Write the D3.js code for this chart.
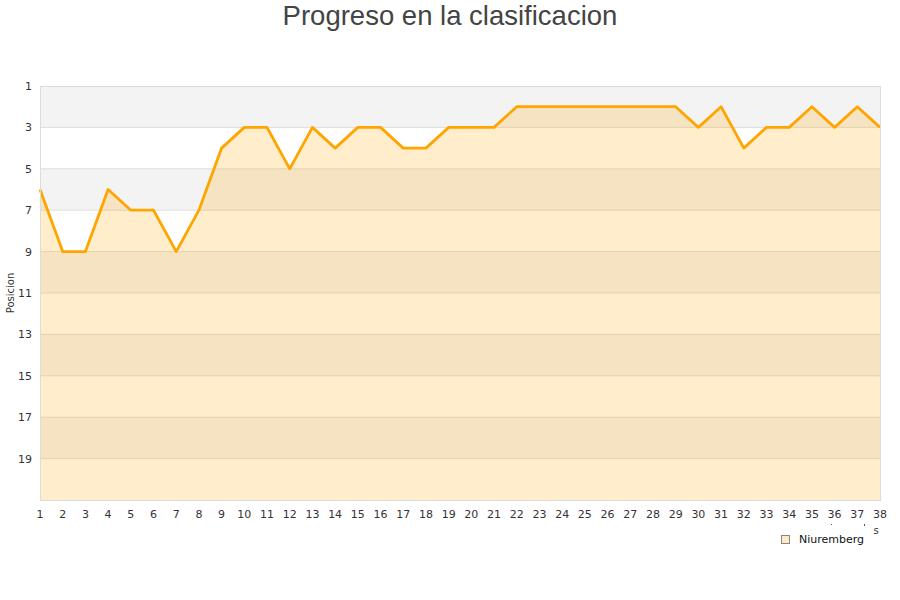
<!DOCTYPE html>
<html><head><meta charset="utf-8">
<script src="https://cdn.jsdelivr.net/npm/d3@7/dist/d3.min.js"></script>
<style>body{margin:0;background:#fff}</style>
</head><body><svg id="c" width="900" height="600"></svg>
<script>
const jornadas = d3.range(1, 39);
const posiciones = [6,9,9,6,7,7,9,7,4,3,3,5,3,4,3,3,4,4,3,3,3,2,2,2,2,2,2,2,2,3,2,4,3,3,2,3,2,3];
const yTicks = [1,3,5,7,9,11,13,15,17,19];
const serieNombre = "Niuremberg";
const titulo = "Progreso en la clasificacion";

const svg = d3.select("#c");
const m = {l:40, r:880, t:86, b:500};
const x = d3.scaleLinear().domain([1,38]).range([m.l, m.r]);
const y = d3.scaleLinear().domain([1,21]).range([m.t, m.b]);

const bands = d3.range(1, 21, 2);
svg.selectAll("rect.band").data(bands).enter().append("rect")
  .attr("x", m.l).attr("width", m.r - m.l)
  .attr("y", d => y(d)).attr("height", d => y(d+2) - y(d))
  .attr("fill", (d,i) => i % 2 === 0 ? "#f3f3f3" : "#ffffff");
svg.selectAll("line.grid").data(yTicks.slice(1)).enter().append("line")
  .attr("x1", m.l).attr("x2", m.r).attr("y1", d => y(d)).attr("y2", d => y(d))
  .attr("stroke", "#dddddd").attr("stroke-width", 1);

const area = d3.area().x((d,i) => x(jornadas[i])).y0(y(21)).y1(d => y(d));
svg.append("path").datum(posiciones).attr("d", area)
  .attr("fill", "rgba(255,165,0,0.2)");
const line = d3.line().x((d,i) => x(jornadas[i])).y(d => y(d));
svg.append("path").datum(posiciones).attr("d", line)
  .attr("fill", "none").attr("stroke", "#ffa500").attr("stroke-width", 2.8).attr("stroke-linejoin","round");

svg.append("rect").attr("x", m.l + 0.5).attr("y", m.t + 0.5)
  .attr("width", m.r - m.l).attr("height", m.b - m.t)
  .attr("fill", "none").attr("stroke", "#dcdcdc");

const font = "DejaVu Sans, Verdana, sans-serif";
svg.selectAll("text.yt").data(yTicks).enter().append("text")
  .attr("x", 32).attr("y", d => y(d) + 4).attr("text-anchor", "end")
  .attr("font-family", font).attr("font-size", 11).attr("fill", "#333")
  .text(d => d);
svg.selectAll("text.xt").data(jornadas).enter().append("text")
  .attr("x", d => x(d)).attr("y", 518).attr("text-anchor", "middle")
  .attr("font-family", font).attr("font-size", 11).attr("fill", "#333")
  .text(d => d);

svg.append("text").attr("transform", "translate(14,293) rotate(-90)")
  .attr("text-anchor", "middle").attr("font-family", font).attr("font-size", 10).attr("fill", "#333")
  .text("Posicion");

svg.append("text").attr("x", 450).attr("y", 25).attr("text-anchor", "middle")
  .attr("font-family", "Liberation Sans, Arial, sans-serif").attr("font-size", 27.5).attr("fill", "#444")
  .text(titulo);

svg.append("text").attr("x", 876).attr("y", 534).attr("text-anchor", "middle")
  .attr("font-family", font).attr("font-size", 10).attr("fill", "#333").text("s");
svg.append("rect").attr("x", 831).attr("y", 524).attr("width", 1).attr("height", 1).attr("fill", "#555");
svg.append("rect").attr("x", 864).attr("y", 524).attr("width", 1).attr("height", 2).attr("fill", "#555");

svg.append("rect").attr("x", 781.5).attr("y", 535.5).attr("width", 8).attr("height", 8)
  .attr("fill", "#fdebc8").attr("stroke", "#888").attr("stroke-width", 1);
svg.append("text").attr("x", 799).attr("y", 543).attr("font-family", font).attr("font-size", 11)
  .attr("fill", "#111").text(serieNombre);
</script></body></html>
